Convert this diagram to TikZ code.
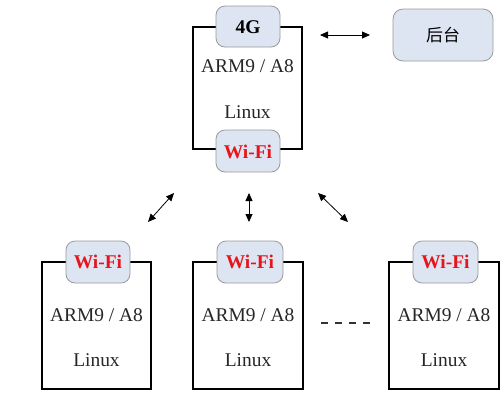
\documentclass[tikz,border=0pt]{standalone}
\usepackage{fontspec}
\setmainfont{Liberation Serif}
\newfontfamily\cjk{Noto Sans CJK SC}
\usetikzlibrary{arrows.meta}
\definecolor{chipfill}{HTML}{DDE5F2}
\definecolor{chipline}{HTML}{9A9A9A}
\definecolor{wifired}{HTML}{E8141B}
\begin{document}
\begin{tikzpicture}[x=1bp,y=-1bp,
  board/.style={draw=black,line width=1.6bp,fill=white},
  chip/.style={draw=chipline,line width=0.8bp,fill=chipfill,rounded corners=9bp},
  txt/.style={font=\fontsize{19.5}{22}\selectfont,text=black!85},
  wf/.style={font=\fontsize{19.5}{22}\selectfont\bfseries,text=wifired},
  link/.style={line width=0.8bp,{Triangle[length=8bp,width=7bp]}-{Triangle[length=8bp,width=7bp]}}]
\useasboundingbox (0,0) rectangle (502,401);
% top board
\draw[board] (193,27) rectangle (302,149);
\filldraw[chip] (216,6) rectangle (280,47);
\node[font=\fontsize{19.5}{22}\selectfont\bfseries] (g4) at (248,27) {4G};
\filldraw[chip] (216,130) rectangle (280,172);
\node[wf] (wt) at (248,152) {Wi-Fi};
\node[txt] (at) at (247.5,66) {ARM9 / A8};
\node[txt] (lt) at (247.5,112) {Linux};
% backend
\filldraw[chip,rounded corners=10bp] (393,9) rectangle (493,61);
\node[font=\cjk\fontsize{17}{20}\selectfont] (bk) at (443,35) {后台};
\coordinate (h1) at (320,35);
\coordinate (h2) at (370,35);
\draw[link] (h1) -- (h2);
% bottom boards
\foreach \n/\l/\r/\cl/\cr in {a/42/151/66/130, b/193/303/217/283, c/389/499/413/478}{
  \draw[board] (\l,262) rectangle (\r,389);
  \filldraw[chip] (\cl,241) rectangle (\cr,283);
  \node[wf] (w\n) at ({(\cl+\cr)/2},262) {Wi-Fi};
  \node[txt] (a\n) at ({(\l+\r)/2},315) {ARM9 / A8};
  \node[txt] (l\n) at ({(\l+\r)/2},360) {Linux};
}
% links
\coordinate (p1) at (174,193); \coordinate (q1) at (148,222);
\coordinate (p2) at (249,193); \coordinate (q2) at (249,222);
\coordinate (p3) at (318,193); \coordinate (q3) at (348,222);
\draw[link] (p1) -- (q1);
\draw[link] (p2) -- (q2);
\draw[link] (p3) -- (q3);
% ellipsis dashes
\coordinate (d1) at (321,323); \coordinate (d2) at (371,323);
\draw[line width=1.2bp,dash pattern=on 7bp off 7bp,black!80] (d1) -- (d2);
\end{tikzpicture}
\end{document}
